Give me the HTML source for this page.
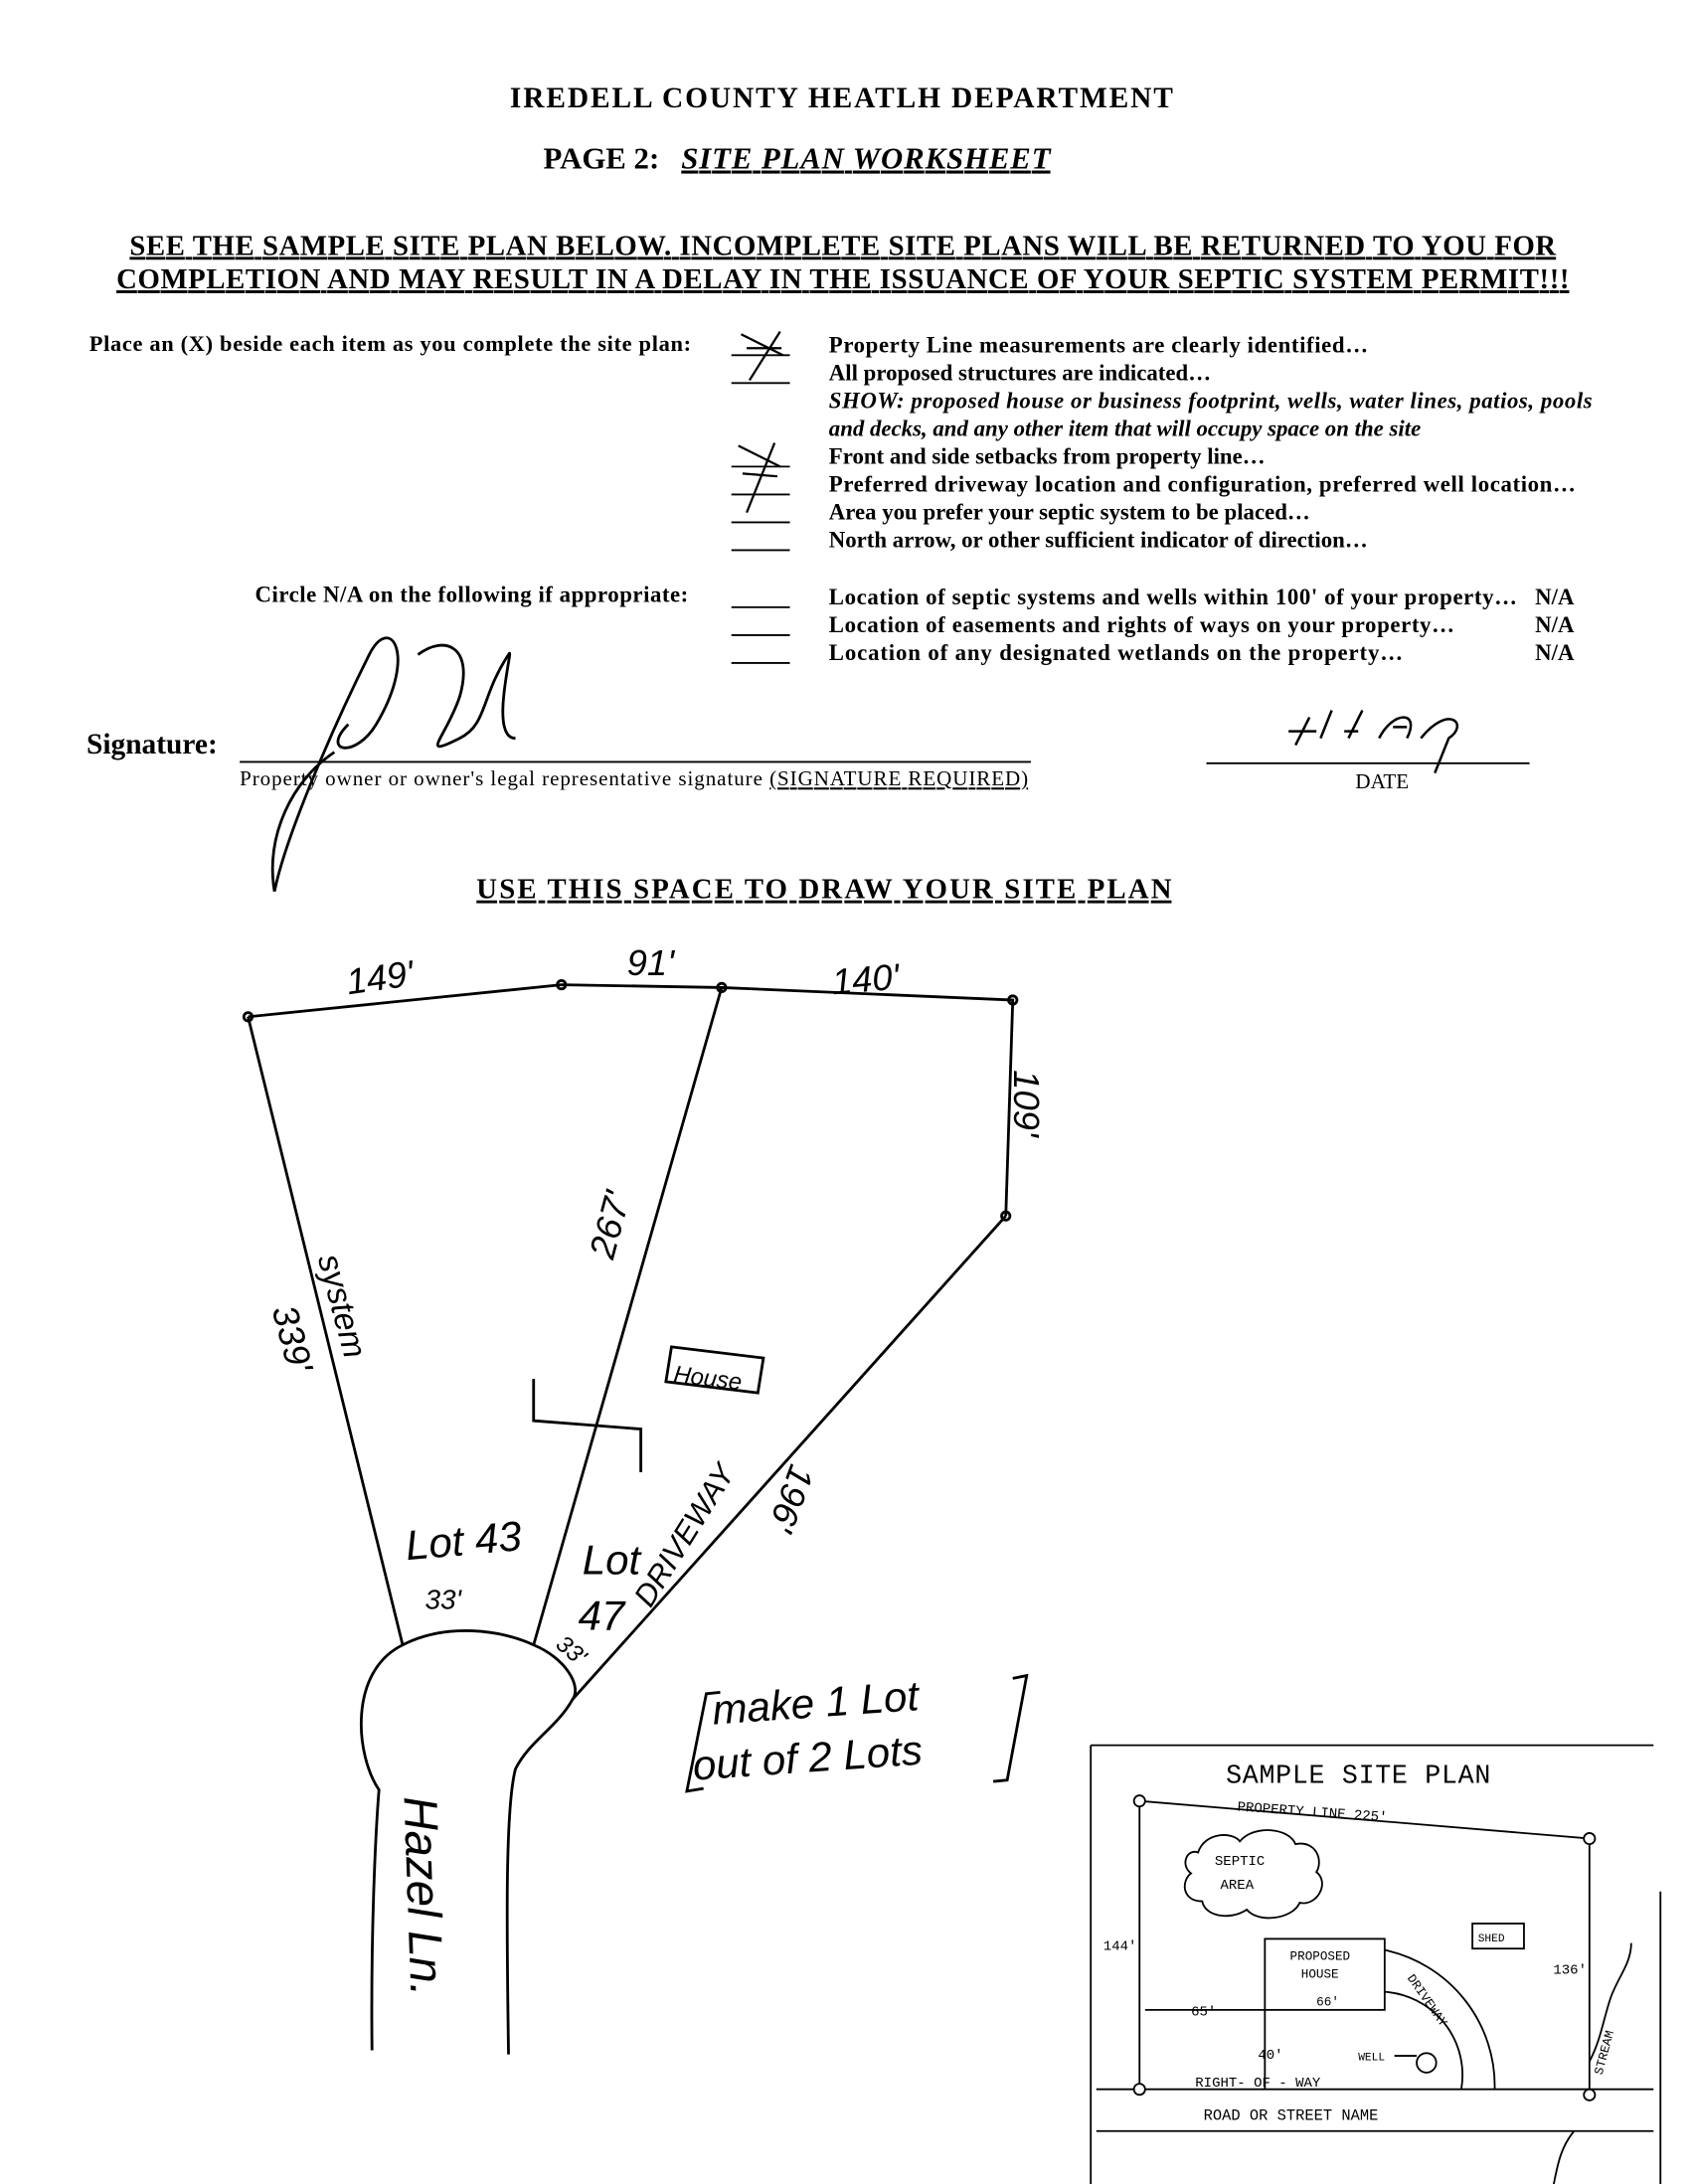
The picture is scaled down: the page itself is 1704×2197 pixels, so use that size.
<!DOCTYPE html>
<html><head><meta charset="utf-8"><style>
html,body{margin:0;padding:0;background:#fff;}
svg{display:block}
.s{font-family:"Liberation Serif",serif;fill:#000}
.b{font-weight:bold}
.h{font-family:"Liberation Sans",sans-serif;font-style:italic;fill:#000}
.m{font-family:"Liberation Mono",monospace;fill:#000}
</style></head><body>
<svg width="1704" height="2197" viewBox="0 0 1216 1568" xmlns="http://www.w3.org/2000/svg">
<rect width="1216" height="1568" fill="#fff"/>
<g class="s">
<text x="604" y="77" text-anchor="middle" class="b" font-size="21" textLength="476">IREDELL COUNTY HEATLH DEPARTMENT</text>
<text x="390" y="121" class="b" font-size="22">PAGE 2:</text>
<text x="489" y="121" class="b" font-size="22" font-style="italic" text-decoration="underline" textLength="265">SITE PLAN WORKSHEET</text>
<text x="605" y="183" text-anchor="middle" class="b" font-size="20.5" text-decoration="underline" textLength="1024">SEE THE SAMPLE SITE PLAN BELOW.  INCOMPLETE SITE PLANS WILL BE RETURNED TO YOU FOR</text>
<text x="605" y="207" text-anchor="middle" class="b" font-size="20.5" text-decoration="underline" textLength="1043">COMPLETION AND MAY RESULT IN A DELAY IN THE ISSUANCE OF YOUR SEPTIC SYSTEM PERMIT!!!</text>
<text x="64" y="252" class="b" font-size="16" textLength="432">Place an (X) beside each item as you complete the site plan:</text>
<g font-size="16.3" class="b">
<text x="595" y="253" textLength="387">Property Line measurements are clearly identified…</text>
<text x="595" y="273">All proposed structures are indicated…</text>
<text x="595" y="293" font-style="italic" textLength="548">SHOW: proposed house or business footprint, wells, water lines, patios, pools</text>
<text x="595" y="313" font-style="italic">and decks, and any other item that will occupy space on the site</text>
<text x="595" y="333">Front and side setbacks from property line…</text>
<text x="595" y="353" textLength="536">Preferred driveway location and configuration, preferred well location…</text>
<text x="595" y="373">Area you prefer your septic system to be placed…</text>
<text x="595" y="393">North arrow, or other sufficient indicator of direction…</text>
<text x="183" y="432" textLength="311">Circle N/A on the following if appropriate:</text>
<text x="595" y="434" textLength="494">Location of septic systems and wells within 100' of your property…</text>
<text x="595" y="454" textLength="449">Location of easements and rights of ways on your property…</text>
<text x="595" y="474" textLength="412">Location of any designated wetlands on the property…</text>
<text x="1102" y="434">N/A</text><text x="1102" y="454">N/A</text><text x="1102" y="474">N/A</text>
</g>
<text x="62" y="541" class="b" font-size="21">Signature:</text>
<text x="172" y="564" font-size="15" textLength="566">Property owner or owner's legal representative signature  <tspan text-decoration="underline">(SIGNATURE REQUIRED)</tspan></text>
<text x="973" y="566" font-size="15">DATE</text>
<text x="342" y="645" class="b" font-size="20.5" text-decoration="underline" textLength="499">USE THIS SPACE TO DRAW YOUR SITE PLAN</text>
</g>
<g stroke="#000" stroke-width="1.3" fill="none">
<path d="M525 255h42M525 275h42M525 335h42M525 355h42M525 375h42M525 395h42M525 436h42M525 456h42M525 476h42"/>
<path d="M172 547H740M866 548H1098"/>
<path d="M532 240l30 15M560 238l-22 35M536 250l25 0M530 320l30 15M556 318l-20 50M533 340l25 2" stroke-width="1.6"/>
<path d="M197 640C205 600 240 520 265 470C280 440 300 470 270 520C255 545 230 540 250 520M300 470C320 455 340 465 330 500C320 530 300 545 330 530C350 520 345 500 365 470C370 460 350 530 370 530" stroke-width="2"/>
<path d="M197 640C190 600 210 560 240 540" stroke-width="2"/>
<path d="M930 535l10-20M948 530l8-20M968 530l10-20M990 530c10-20 30-20 20 0M1020 530c20-25 35-10 20 0l-10 25M925 525h20M965 525h10M1000 522h10" stroke-width="1.8"/>
<g stroke-width="2">
<path d="M178 730L403 707L518 709L727 718L722 873"/>
<path d="M178 730L289 1181M518 709L383 1181M722 873L411 1220"/>
<path d="M289 1181C250 1200 255 1260 272 1285C270 1310 266 1380 267 1472"/>
<path d="M289 1181C320 1165 360 1170 383 1181C405 1190 418 1210 411 1220C400 1240 380 1250 370 1270C362 1300 364 1400 365 1475"/>
<path d="M383 990V1020L460 1026V1057"/>
<path d="M482 967L548 975L544 1000L478 992Z"/>
<path d="M517 1215l-10 1l-14 70l12-2M727 1205l10-2l-14 75l-10 1"/>
<circle cx="178" cy="730" r="3"/><circle cx="403" cy="707" r="3"/><circle cx="518" cy="709" r="3"/><circle cx="727" cy="718" r="3"/><circle cx="722" cy="873" r="3"/>
</g>
</g>
<g class="h" font-size="26">
<text x="250" y="714" transform="rotate(-8 250 714)">149'</text>
<text x="450" y="700">91'</text>
<text x="598" y="714" transform="rotate(-5 598 714)">140'</text>
<text x="728" y="768" transform="rotate(90 728 768)">109'</text>
<text x="440" y="905" transform="rotate(-75 440 905)">267'</text>
<text x="195" y="940" transform="rotate(75 195 940)">339'</text>
<text x="228" y="903" transform="rotate(75 228 903)" font-size="24">system</text>
<text x="568" y="1050" transform="rotate(110 568 1050)">196'</text>
<text x="483" y="992" transform="rotate(7 483 992)" font-size="17">House</text>
<text x="292" y="1120" transform="rotate(-5 292 1120)" font-size="30">Lot 43</text>
<text x="305" y="1155" font-size="20">33'</text>
<text x="418" y="1130" font-size="30">Lot</text>
<text x="415" y="1170" font-size="30">47</text>
<text x="398" y="1182" font-size="17" transform="rotate(40 398 1182)">33'</text>
<text x="467" y="1155" font-size="22" transform="rotate(-58 467 1155)">DRIVEWAY</text>
<text x="512" y="1238" font-size="30" transform="rotate(-4 512 1238)">make 1 Lot</text>
<text x="498" y="1278" font-size="30" transform="rotate(-4 498 1278)">out of 2 Lots</text>
<text x="290" y="1290" font-size="34" transform="rotate(88 290 1290)">Hazel Ln.</text>
</g>
<g stroke="#000" fill="none" stroke-width="1.3">
<path d="M783 1253H1187M783 1253V1568M787 1500H1187M787 1530H1187M1192 1358V1568" />
<path d="M818 1293L1141 1320V1504M818 1293V1500"/>
<circle cx="818" cy="1293" r="4" fill="#fff"/><circle cx="1141" cy="1320" r="4" fill="#fff"/><circle cx="818" cy="1500" r="4" fill="#fff"/><circle cx="1141" cy="1504" r="4" fill="#fff"/>
<path d="M860 1330c5-15 25-15 30-8c10-12 35-10 40 2c15-3 20 12 15 20c10 8 0 25-12 22c-5 12-30 15-38 5c-12 8-30 5-32-6c-15 0-15-15-8-20c-8-6-3-18 5-15z"/>
<rect x="908" y="1392" width="86" height="51"/>
<rect x="1057" y="1381" width="37" height="18"/>
<path d="M994 1400A100 100 0 0 1 1073 1500M994 1430A60 60 0 0 1 1049 1500"/>
<circle cx="1024" cy="1481" r="7"/>
<path d="M822 1443H908M908 1443V1500M1001 1476H1017M1141 1480c8-15 10-30 15-45c5-15 15-25 15-40M1130 1530c-10 12-12 25-15 40"/>
</g>
<g class="m" font-size="10">
<text x="880" y="1280" font-size="19" textLength="190">SAMPLE SITE PLAN</text>
<text x="888" y="1300" transform="rotate(4 888 1300)">PROPERTY LINE 225'</text>
<text x="872" y="1339">SEPTIC</text><text x="876" y="1356">AREA</text>
<text x="1061" y="1394" font-size="8">SHED</text>
<text x="926" y="1407" font-size="9">PROPOSED</text><text x="934" y="1420" font-size="9">HOUSE</text>
<text x="945" y="1440" font-size="9">66'</text>
<text x="792" y="1400">144'</text><text x="1115" y="1417">136'</text>
<text x="855" y="1447">65'</text><text x="903" y="1478">40'</text>
<text x="975" y="1479" font-size="8">WELL</text>
<text x="858" y="1498">RIGHT-  OF - WAY</text>
<text x="864" y="1522" font-size="11">ROAD  OR  STREET  NAME</text>
<text x="1010" y="1420" font-size="9" transform="rotate(55 1010 1420)">DRIVEWAY</text>
<text x="1150" y="1490" font-size="9" transform="rotate(-75 1150 1490)">STREAM</text>
</g>
</svg>
</body></html>
